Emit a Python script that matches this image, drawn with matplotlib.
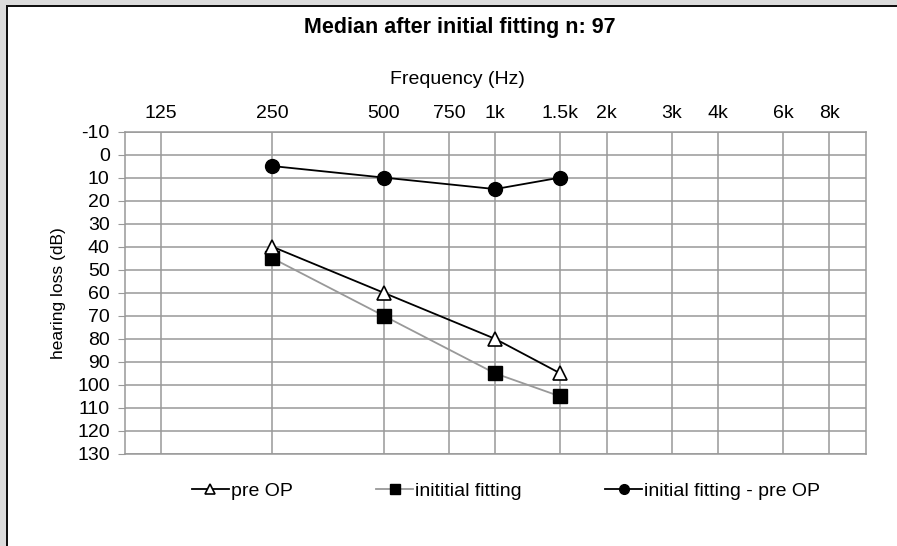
import matplotlib.pyplot as plt
import numpy as np
from matplotlib.patches import Rectangle

plt.rcParams['font.family'] = ['Liberation Sans', 'DejaVu Sans']
plt.rcParams['axes.unicode_minus'] = False

# Audiogram data #

freq_ticks = [125, 250, 500, 750, 1000, 1500, 2000, 3000, 4000, 6000, 8000]
freq_labels = ['125', '250', '500', '750', '1k', '1.5k', '2k', '3k', '4k', '6k', '8k']

freqs = [250, 500, 1000, 1500]
pre_op = [40, 60, 80, 95]
initial_fitting = [45, 70, 95, 105]
fitting_minus_pre = [5, 10, 15, 10]

db_ticks = list(range(-10, 131, 10))

# Plotting #

fig = plt.figure(figsize=(8.97, 5.46), dpi=100)

# outer frame (gray strip + dark line on top/left)
fig.patches.append(Rectangle((0, 0), 1, 1, transform=fig.transFigure, facecolor='#dcdcdc',
                             edgecolor='none', zorder=-3))
fig.patches.append(Rectangle((6 / 897, -0.1), 1.1, 1 - 5 / 546 + 0.1, transform=fig.transFigure,
                             facecolor='#111111', edgecolor='none', zorder=-2))
fig.patches.append(Rectangle((8 / 897, -0.1), 1.1, 1 - 7 / 546 + 0.1, transform=fig.transFigure,
                             facecolor='white', edgecolor='none', zorder=-1))

ax = fig.add_axes([125 / 897, 1 - 454 / 546, (866 - 125) / 897, (454 - 131.5) / 546])

ax.plot(freqs, initial_fitting, color='#999999', lw=1.3, marker='s', ms=10,
        mfc='black', mec='black', label='inititial fitting', zorder=3)
ax.plot(freqs, pre_op, color='black', lw=1.3, marker='^', ms=10,
        mfc='white', mec='black', mew=1.2, label='pre OP', zorder=4)
ax.plot(freqs, fitting_minus_pre, color='black', lw=1.3, marker='o', ms=10,
        mfc='black', mec='black', label='initial fitting - pre OP', zorder=4)

ax.set_xscale('log')
ax.set_xlim(100, 10050)
ax.set_xticks(freq_ticks)
ax.set_xticklabels(freq_labels)
ax.xaxis.set_minor_locator(plt.NullLocator())
ax.xaxis.tick_top()
ax.xaxis.set_label_position('top')
ax.set_xlabel('Frequency (Hz)', fontsize=14)
ax.xaxis.set_label_coords((457 - 125) / 741, (454 - 84) / 322.5)

ax.set_ylim(130, -10)
ax.set_yticks(db_ticks)
ax.set_ylabel('hearing loss (dB)', fontsize=12.5)
ax.yaxis.set_label_coords((66 - 125) / 741, 0.5)

ax.tick_params(axis='x', length=0, labelsize=14, pad=7)
ax.tick_params(axis='y', length=5, color='#999999', labelsize=14, pad=6)

ax.grid(True, color='#999999', lw=1.1)
for s in ax.spines.values():
    s.set_color('#999999')
    s.set_linewidth(1.1)

handles, labels = ax.get_legend_handles_labels()
order = [1, 0, 2]
fig.legend([handles[i] for i in order], [labels[i] for i in order], loc='center',
           bbox_to_anchor=(506 / 897, 1 - 491 / 546), ncol=3, frameon=False, fontsize=14,
           handlelength=1.9, handletextpad=0.1, columnspacing=4.3, markerscale=0.7)

fig.text(460 / 897, 1 - 27 / 546, 'Median after initial fitting n: 97', ha='center', va='center',
         fontsize=15.5, fontweight='bold')

plt.savefig('out.png', dpi=100)
